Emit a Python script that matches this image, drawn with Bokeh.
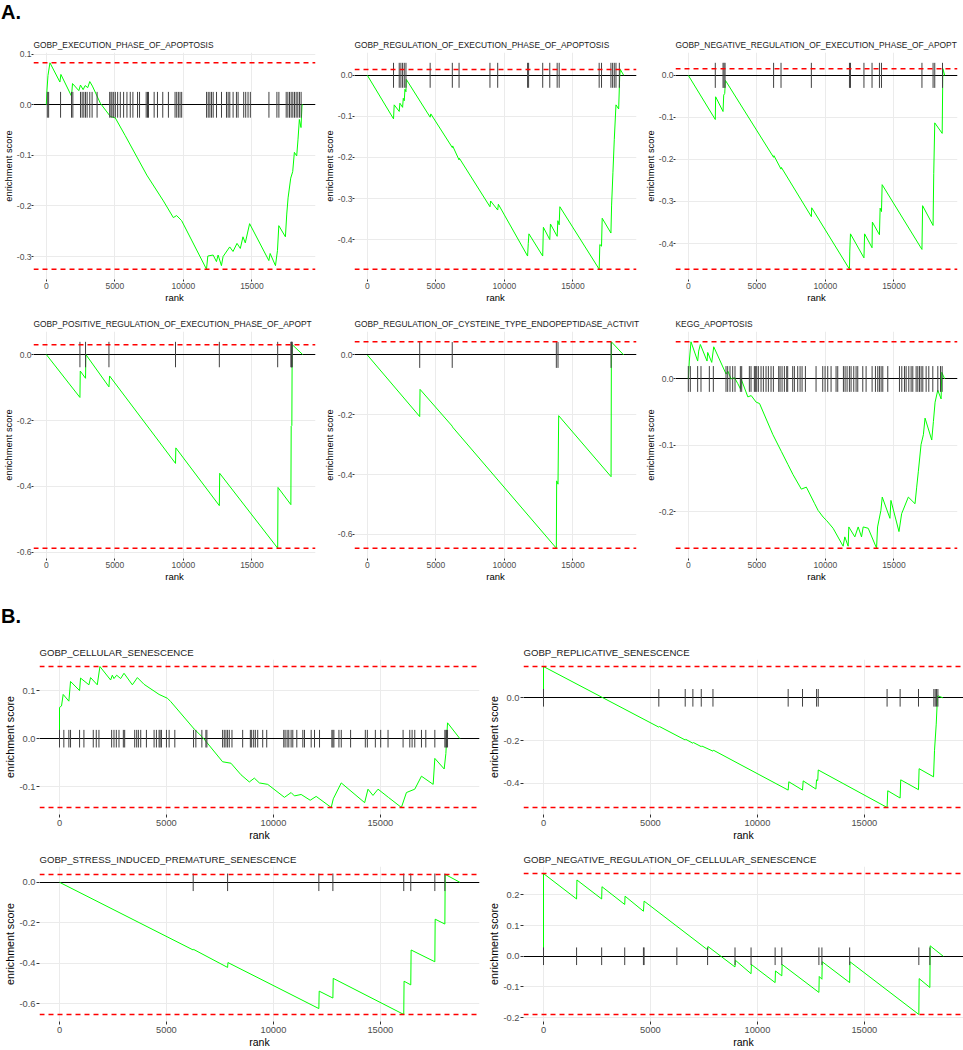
from bokeh.plotting import figure
from bokeh.models import Range1d, FixedTicker, PrintfTickFormatter, Div
from bokeh.layouts import row, column
from bokeh.embed import file_html
from bokeh.resources import INLINE

FONT = "Liberation Sans"
N_GENES = 18700
X_TICKS = [0, 5000, 10000, 15000]

# ---------------- Panel A1 ----------------
a1_title = "GOBP_EXECUTION_PHASE_OF_APOPTOSIS"
a1_hits = [73, 169, 1040, 1839, 1936, 2493, 2614, 2735, 2856, 2977, 3170, 3340, 3703,
           4622, 4719, 4792, 4913, 5034, 5203, 5397, 5639, 5881, 6123, 6316, 6655, 6800,
           7284, 7381, 7454, 7865, 8107, 8494, 8906, 9390, 9511, 9632, 9753, 9874,
           11689, 11810, 11931, 12052, 12173, 12415, 12778, 13141, 13262, 13383, 13625,
           13867, 13988, 14399, 14544, 14714, 14883, 16238, 16819, 16964, 17497, 17618,
           17739, 17860, 17981, 18102, 18223, 18344, 18465, 18586]
a1_x = [0, 48, 121, 266, 992, 1064, 1838, 1911, 2371, 2492, 2685, 2830, 3024, 3169, 3362,
        3943, 4669, 5031, 5757, 7330, 8539, 9265, 9507, 9870, 11684, 11781, 12168, 12410,
        12531, 12773, 12894, 13377, 13619, 13909, 14151, 14345, 14514, 14829, 16232, 16328,
        16715, 16861, 16958, 17441, 17538, 17635, 17828, 17973, 18094, 18264, 18360, 18457,
        18578, 18651, 18700]
a1_y = [0, 0.029, 0.058, 0.083, 0.045, 0.06, 0.017, 0.042, 0.028, 0.039, 0.03, 0.038, 0.034,
        0.046, 0.037, 0.003, -0.023, -0.026, -0.061, -0.139, -0.19, -0.223, -0.219, -0.229,
        -0.325, -0.299, -0.297, -0.31, -0.297, -0.318, -0.3, -0.281, -0.29, -0.274, -0.284,
        -0.261, -0.273, -0.235, -0.308, -0.294, -0.318, -0.288, -0.239, -0.261, -0.216,
        -0.184, -0.145, -0.132, -0.094, -0.101, -0.068, -0.029, -0.045, 0.0, 0.0]
a1_yticks = [-0.3, -0.2, -0.1, 0.0, 0.1]

# ---------------- Panel A2 ----------------
a2_title = "GOBP_REGULATION_OF_EXECUTION_PHASE_OF_APOPTOSIS"
a2_hits = [1911, 2328, 2450, 2573, 2696, 2819, 4583, 6200, 6691, 8946, 9510, 11691, 11765,
           12794, 13309, 13848, 13995, 16912, 17084, 17770, 17893, 18015, 18138, 18383]
a2_x = [0, 1912, 1961, 2328, 2377, 2574, 2623, 2696, 2745, 2819, 2843, 4583, 4632, 6201, 6225,
        6691, 6716, 8946, 8995, 9510, 9559, 11691, 11740, 11789, 12794, 12843, 13309, 13358,
        13848, 13897, 13995, 14044, 16912, 16961, 17084, 17133, 17770, 17819, 17917, 18015,
        18138, 18334, 18408, 18457, 18700]
a2_y = [0, -0.106, -0.072, -0.088, -0.068, -0.078, -0.056, -0.062, -0.034, -0.04, -0.01,
        -0.102, -0.094, -0.176, -0.172, -0.206, -0.202, -0.32, -0.306, -0.328, -0.314, -0.44,
        -0.41, -0.386, -0.44, -0.37, -0.4, -0.362, -0.392, -0.354, -0.364, -0.32, -0.472,
        -0.412, -0.416, -0.348, -0.384, -0.316, -0.236, -0.156, -0.072, -0.082, -0.004,
        0.014, 0]
a2_yticks = [-0.4, -0.3, -0.2, -0.1, 0.0]

# ---------------- Panel A3 ----------------
a3_title = "GOBP_NEGATIVE_REGULATION_OF_EXECUTION_PHASE_OF_APOPT"
a3_hits = [1967, 2533, 2606, 2680, 6221, 6762, 8975, 11754, 11828, 12811, 13401, 13942,
           14090, 17041, 17853, 17976, 18541]
a3_x = [0, 1967, 1992, 2533, 2582, 2656, 2705, 6221, 6246, 6762, 6787, 8975, 9000, 11754,
        11778, 11828, 12811, 12860, 13401, 13426, 13942, 13992, 14090, 14139, 17041, 17090,
        17853, 17902, 17976, 18517, 18566, 18700]
a3_y = [0, -0.105, -0.051, -0.086, -0.047, -0.043, -0.012, -0.195, -0.191, -0.223, -0.219,
        -0.336, -0.315, -0.461, -0.418, -0.377, -0.434, -0.377, -0.41, -0.349, -0.379,
        -0.316, -0.324, -0.26, -0.414, -0.31, -0.357, -0.234, -0.113, -0.138, 0.016, 0]
a3_yticks = [-0.4, -0.3, -0.2, -0.1, 0.0]

# ---------------- Panel A4 ----------------
a4_title = "GOBP_POSITIVE_REGULATION_OF_EXECUTION_PHASE_OF_APOPT"
a4_hits = [2452, 2861, 4568, 9424, 12621, 16876, 17838, 17886, 17910, 17934]
a4_x = [0, 2452, 2476, 2861, 2885, 4568, 4616, 9424, 9448, 12621, 12645, 16876, 16900,
        17838, 17862, 17910, 17934, 18700]
a4_y = [0, -0.13, -0.05, -0.072, 0.0, -0.098, -0.065, -0.33, -0.283, -0.458, -0.36, -0.587,
        -0.403, -0.455, -0.217, -0.215, 0.03, 0]
a4_yticks = [-0.6, -0.4, -0.2, 0.0]

# ---------------- Panel A5 ----------------
a5_title = "GOBP_REGULATION_OF_CYSTEINE_TYPE_ENDOPEPTIDASE_ACTIVIT"
a5_hits = [3822, 6193, 13788, 13909, 17780]
a5_x = [0, 3822, 3846, 6193, 6217, 13788, 13812, 13909, 13958, 17780, 17804, 18700]
a5_y = [0, -0.206, -0.115, -0.238, -0.241, -0.646, -0.421, -0.432, -0.203, -0.407, 0.044, 0]
a5_yticks = [-0.6, -0.4, -0.2, 0.0]

# ---------------- Panel A6 ----------------
a6_title = "KEGG_APOPTOSIS"
a6_hits = [0, 146, 681, 925, 1533, 1825, 2749, 2871, 3041, 3236, 3406, 3795, 3893, 4452,
           4574, 4817, 4890, 4988, 5109, 5304, 5474, 5669, 5839, 6034, 6204, 6593, 6691,
           6837, 7007, 7177, 7250, 7615, 7737, 7980, 8151, 8297, 8540, 9318, 9805, 9975,
           10170, 10413, 10778, 10900, 11313, 11435, 11581, 11751, 11873, 12068, 12238,
           12360, 12725, 12968, 13406, 13649, 13820, 13941, 14063, 14185, 14549, 15401,
           15571, 15766, 15887, 16082, 16252, 16374, 16617, 16739, 16861, 16982, 17104,
           17347, 17542, 17834, 18199, 18394, 18515]
a6_x = [0, 73, 195, 683, 756, 878, 1366, 1415, 1610, 1707, 1854, 2756, 2878, 3122, 3366,
        3610, 3805, 3854, 4341, 4585, 4951, 5195, 6171, 6781, 7268, 7634, 8244, 8610, 9220,
        9464, 9829, 10073, 10561, 11293, 11415, 11659, 11707, 12146, 12390, 12634, 12756,
        13122, 13731, 13805, 14049, 14146, 14707, 14780, 15366, 15561, 16049, 16537, 16659,
        16780, 16975, 17146, 17268, 17756, 17878, 18000, 18195, 18439, 18488, 18700]
a6_y = [0, 0.027, 0.056, 0.027, 0.042, 0.052, 0.027, 0.04, 0.03, 0.025, 0.0485, 0.0074,
        0.012, 0.0, 0.002, -0.007, -0.015, 0.0, -0.027, -0.025, -0.035, -0.037, -0.084,
        -0.109, -0.129, -0.144, -0.166, -0.163, -0.188, -0.198, -0.208, -0.213, -0.225,
        -0.252, -0.238, -0.252, -0.223, -0.238, -0.223, -0.238, -0.223, -0.225, -0.255,
        -0.223, -0.198, -0.178, -0.21, -0.183, -0.23, -0.203, -0.178, -0.188, -0.163,
        -0.139, -0.099, -0.084, -0.059, -0.092, -0.064, -0.035, -0.017, -0.03, 0.01, 0]
a6_yticks = [-0.2, -0.1, 0.0]

# ---------------- Panel B1 ----------------
b1_title = "GOBP_CELLULAR_SENESCENCE"
b1_hits = [0, 203, 438, 516, 938, 1141, 1578, 1719, 1844, 2438, 2547, 2656, 2781, 2984,
           3047, 3516, 3609, 3688, 3797, 4063, 4422, 4531, 4656, 4703, 4766, 5000, 5125,
           5391, 6266, 6375, 6656, 6844, 6891, 7625, 7703, 7781, 7859, 7938, 8063, 8563,
           8922, 8984, 9078, 9156, 9266, 9500, 9688, 10484, 10547, 10641, 10719, 10828,
           10906, 11094, 11375, 11453, 11766, 11922, 12156, 12734, 12781, 12828, 13063,
           13172, 13609, 14297, 14391, 14766, 15016, 15359, 16063, 16375, 16484, 16609,
           16922, 17125, 17547, 18016, 18063, 18094, 18141]
b1_x = [0, 0, 94, 172, 438, 516, 938, 984, 1375, 1453, 1766, 1890, 2390, 2469, 2547, 2672,
        2859, 3016, 3406, 3641, 3953, 4422, 4656, 5047, 5203, 6297, 6688, 7625, 8016, 8484,
        8875, 9109, 9344, 9734, 10516, 10828, 10984, 11297, 11719, 12000, 12703, 12800,
        13172, 14266, 14422, 14656, 14891, 15375, 15984, 16219, 16609, 16922, 17469, 17547,
        17984, 18063, 18141, 18719]
b1_y = [0, 0.065, 0.068, 0.092, 0.078, 0.119, 0.1, 0.126, 0.112, 0.127, 0.112, 0.15, 0.122,
        0.132, 0.125, 0.132, 0.125, 0.136, 0.112, 0.127, 0.113, 0.099, 0.092, 0.084, 0.077,
        0.02, 0.003, -0.048, -0.051, -0.075, -0.09, -0.082, -0.092, -0.095, -0.122, -0.112,
        -0.119, -0.116, -0.128, -0.12, -0.143, -0.125, -0.092, -0.133, -0.105, -0.118,
        -0.105, -0.122, -0.143, -0.112, -0.105, -0.078, -0.095, -0.041, -0.063, -0.031,
        0.033, 0]
b1_yticks = [-0.1, 0.0, 0.1]

# ---------------- Panel B2 ----------------
b2_title = "GOBP_REPLICATIVE_SENESCENCE"
b2_hits = [0, 5391, 6625, 6984, 7375, 7922, 11438, 12109, 12766, 12844, 16063, 16672,
           17531, 18250, 18313, 18375, 18438]
b2_x = [0, 0, 5391, 5420, 6625, 6650, 6984, 7010, 7375, 7400, 7922, 7950, 11438, 11469,
        12109, 12141, 12734, 12766, 12820, 12844, 16063, 16094, 16672, 16700, 17531, 17560,
        18234, 18280, 18360, 18420, 18450, 18672]
b2_y = [0, 0.146, -0.137, -0.134, -0.197, -0.194, -0.212, -0.209, -0.228, -0.225, -0.249,
        -0.245, -0.431, -0.392, -0.431, -0.388, -0.426, -0.383, -0.386, -0.337, -0.512,
        -0.434, -0.468, -0.383, -0.429, -0.331, -0.369, -0.245, -0.123, 0.008, 0.009, 0]
b2_yticks = [-0.4, -0.2, 0.0]

# ---------------- Panel B3 ----------------
b3_title = "GOBP_STRESS_INDUCED_PREMATURE_SENESCENCE"
b3_hits = [6250, 7859, 12125, 12781, 16094, 16422, 17547, 18016]
b3_x = [0, 6250, 6266, 7859, 7875, 12125, 12141, 12781, 12797, 16094, 16109, 16422, 16438,
        17547, 17563, 18016, 18031, 18719]
b3_y = [0, -0.334, -0.331, -0.42, -0.396, -0.623, -0.537, -0.571, -0.474, -0.652, -0.488,
        -0.506, -0.334, -0.392, -0.182, -0.206, 0.039, 0]
b3_yticks = [-0.6, -0.4, -0.2, 0.0]

# ---------------- Panel B4 ----------------
b4_title = "GOBP_NEGATIVE_REGULATION_OF_CELLULAR_SENESCENCE"
b4_hits = [0, 1547, 2719, 3797, 4672, 4703, 6234, 7672, 8953, 9703, 10828, 11141, 12875,
           13016, 14313, 17547, 18063]
b4_x = [0, 0, 1547, 1563, 2719, 2734, 3797, 3813, 4672, 4703, 7672, 7688, 8953, 8969, 9703,
        9719, 10828, 10844, 11141, 11156, 12875, 12891, 13016, 13031, 14313, 14328, 17547,
        17563, 18063, 18078, 18688]
b4_y = [0, 0.27, 0.187, 0.249, 0.187, 0.227, 0.169, 0.196, 0.147, 0.18, 0.021, 0.032,
        -0.035, -0.013, -0.057, -0.027, -0.086, -0.048, -0.064, -0.027, -0.118, -0.066,
        -0.075, -0.018, -0.086, -0.018, -0.19, -0.073, -0.102, 0.034, 0]
b4_yticks = [-0.2, -0.1, 0.0, 0.1, 0.2]

STYLE_A = dict(title="8.4px", tick="8.5px", ylab="9.3px", xlab="9.5px",
               title_standoff=6, ytick_out=2, ylabel_standoff=0, ytitle_standoff=0,
               xtick_out=2, xlabel_standoff=1)
STYLE_B = dict(title="9.6px", tick="9.3px", ylab="10.7px", xlab="10.5px",
               title_standoff=4, ytick_out=3, ylabel_standoff=1, ytitle_standoff=0,
               xtick_out=3, xlabel_standoff=2)


def panel(title, hits, cx, cy, yticks, width, height, left, right, top, bottom, st):
    lo, hi = min(cy), max(cy)
    d = (hi - lo) / 8.0
    ymin, ymax = min(lo, -d / 2), max(hi, d / 2)
    pad = 0.05 * (ymax - ymin)
    xpad = 0.05 * N_GENES
    xr = Range1d(-xpad, N_GENES + xpad)
    p = figure(width=width, height=height, x_range=xr,
               y_range=Range1d(ymin - pad, ymax + pad),
               output_backend="svg", toolbar_location=None, title=title,
               min_border_left=left, min_border_right=right,
               min_border_top=top, min_border_bottom=bottom)
    p.outline_line_color = None
    p.background_fill_color = "white"
    p.border_fill_color = "white"
    p.title.text_font = FONT
    p.title.text_font_size = st["title"]
    p.title.text_font_style = "normal"
    p.title.text_color = "#1a1a1a"
    p.title.standoff = st["title_standoff"]
    p.title.offset = 0

    for ax in (p.xaxis[0], p.yaxis[0]):
        ax.axis_line_color = None
        ax.major_tick_line_color = "#333333"
        ax.major_tick_in = 0
        ax.minor_tick_line_color = None
        ax.major_label_text_font = FONT
        ax.major_label_text_font_size = st["tick"]
        ax.major_label_text_color = "#4D4D4D"
        ax.axis_label_text_font = FONT
        ax.axis_label_text_font_style = "normal"
        ax.axis_label_text_color = "#000000"
    p.xaxis.major_tick_out = st["xtick_out"]
    p.xaxis.major_label_standoff = st["xlabel_standoff"]
    p.xaxis.axis_label_standoff = 0
    p.yaxis.major_tick_out = st["ytick_out"]
    p.yaxis.major_label_standoff = st["ylabel_standoff"]
    p.yaxis.axis_label_standoff = st["ytitle_standoff"]
    p.xaxis.axis_label = "rank"
    p.yaxis.axis_label = "enrichment score"
    p.xaxis.axis_label_text_font_size = st["xlab"]
    p.yaxis.axis_label_text_font_size = st["ylab"]
    p.xaxis.ticker = FixedTicker(ticks=X_TICKS)
    p.yaxis.ticker = FixedTicker(ticks=yticks)
    p.xaxis.formatter = PrintfTickFormatter(format="%d")
    p.yaxis.formatter = PrintfTickFormatter(format="%.1f")
    p.xgrid.grid_line_color = "#EBEBEB"
    p.ygrid.grid_line_color = "#EBEBEB"
    p.xgrid.grid_line_width = 1
    p.ygrid.grid_line_width = 1

    # zero line, running score, gene hits, then max / min enrichment (red dashed)
    p.hspan(y=[0], line_color="#000000", line_width=1)
    p.line(cx, cy, line_color="#00FF00", line_width=1)
    p.segment(x0=hits, y0=[-d / 2] * len(hits), x1=hits, y1=[d / 2] * len(hits),
              line_color="#404040", line_width=1)
    for level_y in (hi, lo):
        p.segment(x0=[xr.start], x1=[xr.end], y0=[level_y], y1=[level_y],
                  line_color="#FF0000", line_dash="5 4", line_width=1.5)
    return p


HA = 279
pa1 = panel(a1_title, a1_hits, a1_x, a1_y, a1_yticks, 321, HA, 33, 6, 26, 25, STYLE_A)
pa2 = panel(a2_title, a2_hits, a2_x, a2_y, a2_yticks, 321, HA, 33, 6, 26, 25, STYLE_A)
pa3 = panel(a3_title, a3_hits, a3_x, a3_y, a3_yticks, 321, HA, 33, 6, 26, 25, STYLE_A)
pa4 = panel(a4_title, a4_hits, a4_x, a4_y, a4_yticks, 321, HA, 33, 6, 26, 25, STYLE_A)
pa5 = panel(a5_title, a5_hits, a5_x, a5_y, a5_yticks, 321, HA, 33, 6, 26, 25, STYLE_A)
pa6 = panel(a6_title, a6_hits, a6_x, a6_y, a6_yticks, 321, HA, 33, 6, 26, 25, STYLE_A)

pb1 = panel(b1_title, b1_hits, b1_x, b1_y, b1_yticks, 481, 207, 39, 2, 23, 26, STYLE_B)
pb2 = panel(b2_title, b2_hits, b2_x, b2_y, b2_yticks, 482, 207, 42, 0, 23, 26, STYLE_B)
pb3 = panel(b3_title, b3_hits, b3_x, b3_y, b3_yticks, 481, 207, 39, 2, 23, 26, STYLE_B)
pb4 = panel(b4_title, b4_hits, b4_x, b4_y, b4_yticks, 482, 207, 42, 0, 23, 26, STYLE_B)

lab_a = Div(text='<div style="font-family: Liberation Sans; font-size: 20px; font-weight: bold; '
                 'line-height: 1; padding: 2px 0 0 1px; color: #000;">A.</div>',
            width=963, height=26, margin=(0, 0, 0, 0))
lab_b = Div(text='<div style="font-family: Liberation Sans; font-size: 20px; font-weight: bold; '
                 'line-height: 1; padding: 22px 0 0 1px; color: #000;">B.</div>',
            width=963, height=52, margin=(0, 0, 0, 0))

layout = column(lab_a, row(pa1, pa2, pa3), row(pa4, pa5, pa6), lab_b,
                row(pb1, pb2), row(pb3, pb4))

open("out.html", "w").write(file_html(layout, INLINE))
